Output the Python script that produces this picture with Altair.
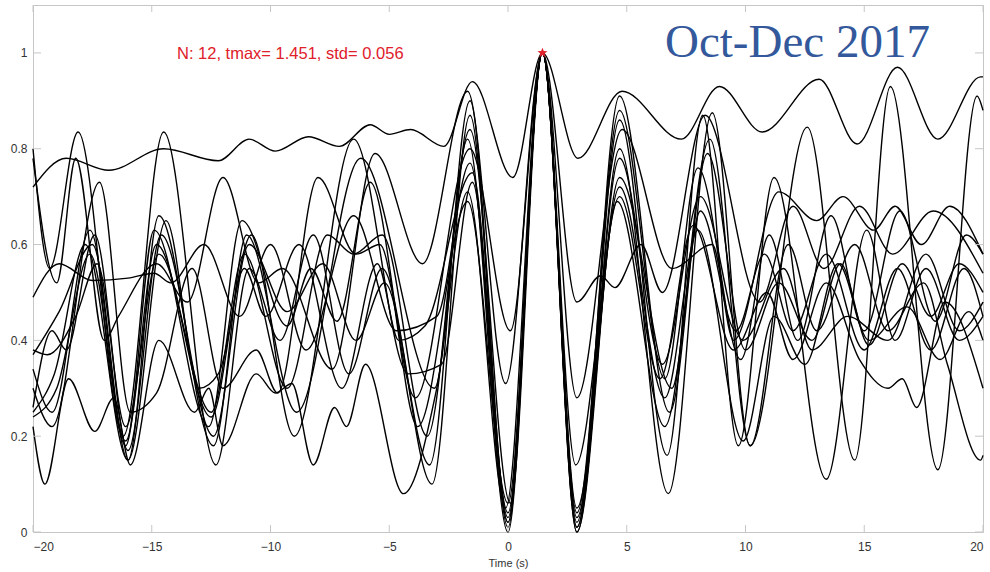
import altair as alt
import pandas as pd

# ---- data: each curve as (time, value) extrema ----
c01 = [(-20,0.72),(-18.6,0.78),(-16.8,0.755),(-14.5,0.80),(-12.2,0.775),(-10.9,0.82),(-9.8,0.795),(-8.4,0.825),(-7.1,0.805),(-5.8,0.85),(-5.0,0.83),(-4.1,0.84),(-2.7,0.805),(-1.5,0.94),(0.2,0.74),(1.45,1.0),(2.95,0.78),(4.8,0.92),(7.3,0.82),(8.9,0.93),(10.7,0.835),(13.1,0.945),(14.7,0.81),(16.4,0.97),(18.1,0.82),(19.9,0.95),(20,0.95)]
c02 = [(-20,0.80),(-19.3,0.55),(-18.1,0.835),(-16.2,0.20),(-14.5,0.835),(-12.3,0.14),(-10.9,0.55),(-9.6,0.40),(-8.2,0.62),(-6.7,0.33),(-5.3,0.55),(-3.3,0.14),(-1.6,0.90),(0.0,0.02),(1.45,1.0),(2.9,0.01),(4.7,0.86),(6.7,0.16),(8.2,0.87),(9.7,0.18),(11.2,0.74),(13.4,0.11),(15.1,0.63),(16.3,0.40),(17.6,0.55),(19.0,0.40),(20,0.45)]
c03 = [(-20,0.25),(-19.1,0.33),(-17.8,0.60),(-16.0,0.15),(-14.7,0.66),(-12.4,0.18),(-11.0,0.62),(-8.9,0.25),(-6.2,0.78),(-3.1,0.30),(-1.7,0.82),(0.0,0.0),(1.45,1.0),(2.9,0.0),(4.7,0.80),(6.75,0.08),(8.6,0.875),(10.2,0.18),(12.6,0.845),(14.6,0.15),(16.1,0.93),(18.1,0.13),(19.75,0.91),(20,0.88)]
c04 = [(-20,0.49),(-18.9,0.56),(-17.5,0.525),(-16.0,0.53),(-14.9,0.54),(-14.2,0.52),(-12.8,0.60),(-11.3,0.45),(-10.0,0.60),(-8.5,0.38),(-6.5,0.66),(-4.7,0.42),(-3.0,0.45),(-1.6,0.77),(0.0,0.04),(1.45,1.0),(2.9,0.03),(4.7,0.78),(6.5,0.35),(8.1,0.70),(9.9,0.40),(11.6,0.55),(12.8,0.38),(14.3,0.45),(16.0,0.40),(17.6,0.58),(19.0,0.42),(20,0.48)]
c05 = [(-20,0.26),(-19.2,0.42),(-18.6,0.38),(-17.4,0.62),(-16.0,0.17),(-14.6,0.62),(-12.4,0.20),(-10.9,0.60),(-9.3,0.46),(-7.8,0.56),(-6.4,0.40),(-5.2,0.52),(-3.2,0.10),(-1.6,0.87),(0.0,0.03),(1.45,1.0),(2.9,0.02),(4.7,0.91),(6.8,0.25),(8.4,0.79),(10.0,0.38),(11.4,0.52),(12.8,0.40),(14.0,0.56),(15.2,0.39),(16.6,0.56),(17.8,0.45),(19.0,0.56),(20,0.50)]
c06 = [(-20,0.38),(-19.4,0.37),(-18.2,0.45),(-17.3,0.56),(-16.1,0.22),(-14.7,0.58),(-12.5,0.25),(-11.1,0.58),(-9.3,0.30),(-7.6,0.62),(-6.5,0.58),(-5.3,0.62),(-3.4,0.20),(-1.6,0.84),(0.1,0.06),(1.45,1.0),(2.9,0.04),(4.7,0.88),(6.6,0.32),(8.0,0.76),(9.8,0.36),(11.0,0.62),(12.2,0.40),(13.6,0.66),(15.0,0.42),(16.5,0.67),(18.0,0.44),(19.3,0.62),(20,0.58)]
c07 = [(-20,0.22),(-19.5,0.10),(-18.5,0.32),(-17.4,0.21),(-16.6,0.28),(-15.9,0.14),(-14.7,0.40),(-13.2,0.25),(-12.6,0.30),(-12.0,0.18),(-10.6,0.33),(-9.8,0.29),(-9.1,0.31),(-8.2,0.14),(-7.3,0.26),(-6.8,0.22),(-6.0,0.35),(-4.4,0.08),(-3.0,0.30),(-1.7,0.71),(-0.1,0.05),(1.45,1.0),(2.85,0.14),(4.7,0.70),(6.4,0.32),(7.8,0.64),(9.5,0.38),(10.9,0.50),(12.0,0.36),(13.4,0.52),(14.8,0.36),(16.0,0.30),(16.6,0.32),(17.2,0.26),(18.4,0.48),(20,0.30)]
c08 = [(-20,0.34),(-19.2,0.25),(-17.6,0.63),(-16.1,0.18),(-14.9,0.63),(-12.6,0.22),(-11.2,0.65),(-9.3,0.43),(-8.3,0.55),(-7.2,0.44),(-5.8,0.73),(-3.9,0.28),(-1.6,0.80),(0.1,0.42),(1.45,1.0),(2.9,0.48),(3.9,0.535),(4.5,0.51),(5.6,0.60),(6.5,0.50),(8.3,0.87),(10.6,0.48),(12.0,0.68),(13.3,0.55),(14.8,0.68),(16.2,0.58),(17.9,0.67),(20,0.54)]
c09 = [(-20,0.78),(-19.0,0.52),(-18.2,0.78),(-17.0,0.40),(-16.4,0.45),(-14.8,0.56),(-13.5,0.48),(-12.0,0.74),(-10.5,0.52),(-9.5,0.55),(-7.4,0.34),(-5.6,0.79),(-3.6,0.56),(-1.7,0.92),(-0.1,0.31),(1.45,1.0),(2.9,0.28),(4.8,0.84),(6.9,0.55),(8.6,0.60),(9.5,0.40),(11.4,0.71),(13.0,0.65),(14.1,0.70),(15.4,0.63),(16.3,0.68),(17.4,0.60),(18.6,0.68),(20,0.58)]
c10 = [(-20,0.24),(-19.0,0.30),(-17.6,0.58),(-16.1,0.19),(-14.8,0.60),(-12.5,0.24),(-11.1,0.55),(-10.2,0.45),(-8.8,0.60),(-7.0,0.30),(-5.5,0.56),(-4.6,0.40),(-3.5,0.43),(-1.5,0.75),(0.0,0.01),(1.45,1.0),(2.9,0.0),(4.7,0.74),(6.9,0.30),(8.1,0.67),(9.6,0.42),(10.8,0.58),(12.0,0.42),(13.4,0.58),(15.0,0.38),(16.4,0.55),(17.8,0.38),(19.2,0.55),(20,0.45)]
c11 = [(-20,0.30),(-19.2,0.22),(-17.2,0.73),(-15.9,0.25),(-14.8,0.29),(-13.3,0.55),(-12.0,0.30),(-10.6,0.38),(-9.7,0.29),(-8.0,0.74),(-6.4,0.58),(-5.4,0.60),(-3.8,0.22),(-1.7,0.69),(0.0,0.06),(1.45,1.0),(2.9,0.05),(4.7,0.72),(6.6,0.28),(8.0,0.63),(9.9,0.19),(11.2,0.45),(12.5,0.35),(13.9,0.56),(15.2,0.40),(16.8,0.47),(18.2,0.36),(19.4,0.46),(20,0.40)]
c12 = [(-20,0.37),(-18.9,0.46),(-17.5,0.60),(-16.0,0.15),(-14.4,0.65),(-13.0,0.30),(-12.2,0.33),(-10.8,0.62),(-9.0,0.20),(-6.5,0.82),(-4.2,0.33),(-2.8,0.35),(-1.5,0.73),(0.0,0.02),(1.45,1.0),(2.9,0.01),(4.6,0.69),(6.6,0.22),(8.5,0.82),(10.2,0.18),(11.8,0.60),(13.0,0.42),(14.6,0.60),(16.0,0.42),(17.5,0.52),(18.5,0.35),(19.9,0.15),(20,0.16)]

curves = [c01, c02, c03, c04, c05, c06, c07, c08, c09, c10, c11, c12]

peak_t = [1.451]
peak_v = [1.0]
x_ticks = [-20, -15, -10, -5, 0, 5, 10, 15, 20]
y_ticks = [0, 0.2, 0.4, 0.6, 0.8, 1.0]
annotation = "N: 12, tmax= 1.451, std= 0.056"
period_label = "Oct-Dec 2017"

rows = []
for i, c in enumerate(curves):
    for t, v in c:
        rows.append({"curve": f"c{i+1:02d}", "t": t, "v": v})
df = pd.DataFrame(rows)

W, H = 950, 527
xs = alt.Scale(domain=[-20, 20], nice=False, zero=False)
ys = alt.Scale(domain=[0, 1.1], nice=False, zero=False)
AX = "#c6c6c6"
LAB = "#333333"

lines = alt.Chart(df).mark_line(
    color="black", strokeWidth=1.4, interpolate="monotone"
).encode(
    x=alt.X("t:Q", scale=xs, title="Time (s)",
            axis=alt.Axis(values=x_ticks, ticks=False, grid=False, domain=False,
                          labelFont="Liberation Sans", labelFontSize=12, labelColor=LAB,
                          labelPadding=9, titleFont="Liberation Sans", titleFontSize=11,
                          titleFontWeight="normal", titleColor=LAB, titlePadding=5)),
    y=alt.Y("v:Q", scale=ys, title=None,
            axis=alt.Axis(values=y_ticks, ticks=False, grid=False, domain=False,
                          format="~g", labelFont="Liberation Sans", labelFontSize=12,
                          labelColor=LAB, labelPadding=6)),
    detail="curve:N",
    order="t:Q",
)

xt = pd.DataFrame({"t": x_ticks})
yt = pd.DataFrame({"v": y_ticks})
xtick_b = alt.Chart(xt).mark_rule(color=AX, strokeWidth=1).encode(
    x=alt.X("t:Q", scale=xs), y=alt.value(H), y2=alt.value(H - 7))
xtick_t = alt.Chart(xt).mark_rule(color=AX, strokeWidth=1).encode(
    x=alt.X("t:Q", scale=xs), y=alt.value(0), y2=alt.value(7))
ytick_l = alt.Chart(yt).mark_rule(color=AX, strokeWidth=1).encode(
    y=alt.Y("v:Q", scale=ys), x=alt.value(0), x2=alt.value(8))
ytick_r = alt.Chart(yt).mark_rule(color=AX, strokeWidth=1).encode(
    y=alt.Y("v:Q", scale=ys), x=alt.value(W), x2=alt.value(W - 8))

star_path = "M0,-1L0.25,-0.35L0.95,-0.31L0.4,0.13L0.59,0.81L0,0.42L-0.59,0.81L-0.4,0.13L-0.95,-0.31L-0.25,-0.35Z"
peak = alt.Chart(pd.DataFrame({"t": peak_t, "v": peak_v})).mark_point(
    shape=star_path, filled=True, color="#e0202a", size=110, opacity=1
).encode(x=alt.X("t:Q", scale=xs), y=alt.Y("v:Q", scale=ys))

ann = alt.Chart(pd.DataFrame({"txt": [annotation]})).mark_text(
    align="left", baseline="middle", font="Liberation Sans", fontSize=16.5, color="#e0202a"
).encode(text="txt:N", x=alt.value(144), y=alt.value(49))

lbl = alt.Chart(pd.DataFrame({"txt": [period_label]})).mark_text(
    align="left", baseline="alphabetic", font="Liberation Serif", fontSize=47, color="#33589b"
).encode(text="txt:N", x=alt.value(632), y=alt.value(52))

chart = alt.layer(lines, xtick_b, xtick_t, ytick_l, ytick_r, peak, ann, lbl).properties(
    width=W, height=H,
    autosize=alt.AutoSizeParams(type="none"),
    padding={"left": 33, "top": 5, "right": 7, "bottom": 40},
).configure_view(stroke=AX, strokeWidth=1)

chart.save("out.html", embed_options={"renderer": "svg", "actions": False})
